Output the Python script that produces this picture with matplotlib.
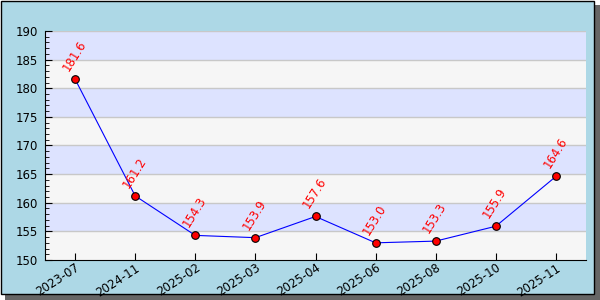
import matplotlib.pyplot as plt
from matplotlib.patches import Rectangle

# Data
dates = ["2023-07", "2024-11", "2025-02", "2025-03", "2025-04",
         "2025-06", "2025-08", "2025-10", "2025-11"]
values = [181.6, 161.2, 154.3, 153.9, 157.6, 153.0, 153.3, 155.9, 164.6]

W, H = 600, 300
fig = plt.figure(figsize=(6, 3), dpi=100, facecolor="white")

# shadow + light blue frame with black border
fig.patches.append(Rectangle((5 / W, 0), 595 / W, 295 / H, transform=fig.transFigure,
                             facecolor="#666666", edgecolor="none", zorder=-3))
fig.patches.append(Rectangle((0.5 / W, 6.5 / H), 593 / W, 293 / H, transform=fig.transFigure,
                             facecolor="#ADD8E6", edgecolor="black", linewidth=1, zorder=-2))

ax = fig.add_axes([45 / W, 40 / H, 541 / W, 229 / H])
x = list(range(len(dates)))

ax.set_xlim(-0.5, len(dates) - 0.5)
ax.set_ylim(150, 190)

# alternating background bands
for lo in range(150, 190, 5):
    color = "#F6F6F6" if (lo // 5) % 2 == 0 else "#DDE3FF"
    ax.axhspan(lo, lo + 5, facecolor=color, edgecolor="none", zorder=0)
for yv in range(155, 191, 5):
    ax.axhline(yv, color="#C8C8C8", linewidth=1, zorder=1)

ax.plot(x, values, color="blue", linewidth=0.8, zorder=3)
ax.plot(x, values, "o", markerfacecolor="red", markeredgecolor="black",
        markersize=5.5, markeredgewidth=0.8, zorder=4)

for xi, v in zip(x, values):
    ax.annotate(f"{v:.1f}", (xi, v), xytext=(-3, 4), textcoords="offset points",
                rotation=58, color="red", fontsize=8.5, ha="left", va="bottom",
                rotation_mode="anchor", zorder=5)

ax.set_xticks(x)
ax.set_xticklabels(dates, rotation=33, ha="right", rotation_mode="anchor", fontsize=8.5)
ax.set_yticks(range(150, 191, 5))
ax.set_yticks(range(150, 191, 1), minor=True)
ax.tick_params(axis="y", which="major", direction="in", length=5, labelsize=8.5, pad=5)
ax.tick_params(axis="y", which="minor", direction="in", length=3)
ax.tick_params(axis="x", direction="in", length=5, pad=1)

ax.spines["top"].set_visible(False)
ax.spines["right"].set_visible(False)

fig.savefig("out.png", dpi=100)
